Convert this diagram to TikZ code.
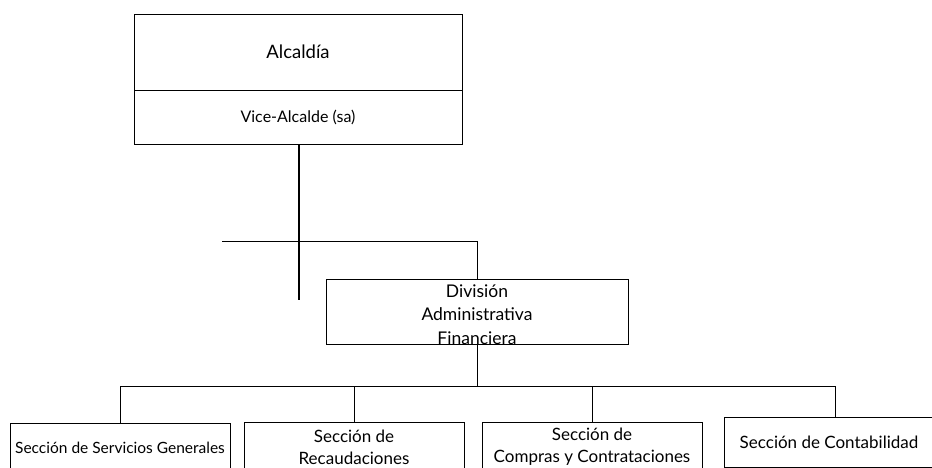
\documentclass[tikz,border=0pt]{standalone}
\usepackage{fontspec}
\setmainfont{Lato}
\begin{document}
\begin{tikzpicture}[x=1pt, y=-1pt]
\tikzstyle{unit}  = [rectangle, draw=black, line width=1pt, inner sep=0pt, align=center, text centered]
\tikzstyle{big}   = [font=\fontsize{17}{22}\selectfont]
\tikzstyle{mid}   = [font=\fontsize{17.5}{23.5}\selectfont]
\tikzstyle{small} = [font=\fontsize{15.5}{18}\selectfont]
\tikzstyle{link}  = [line width=1pt, black]
\useasboundingbox (0,0) rectangle (932,467);
\clip (0,0) rectangle (932,467);
\node[unit, font=\fontsize{18.5}{22}\selectfont, minimum width=328pt, minimum height=76pt] at (298, 52) (alc_0) {Alcaldía};
\node[unit, font=\fontsize{16}{18}\selectfont, minimum width=328pt, minimum height=54pt] at (298, 117) (alc_1) {Vice-Alcalde (sa)};
\node[unit, mid, minimum width=302pt, minimum height=65pt, text height=65pt, text depth=0pt] at (477, 311.5) (div_0) {División\\Administrativa\\Financiera};
\node[unit, small, minimum width=220pt, minimum height=50pt] at (120, 448) (sec_0) {Sección de Servicios Generales};
\node[unit, big, minimum width=220pt, minimum height=50pt] at (354, 447) (sec_1) {Sección de\\Recaudaciones};
\node[unit, big, minimum width=220pt, minimum height=50pt] at (592, 447) (sec_2) {Sección de\\Compras y Contrataciones};
\node[unit, big, minimum width=222pt, minimum height=50pt] at (835, 442) (sec_3) {Sección de Contabilidad\hspace*{12pt}};
\coordinate (alc_end) at (299, 300);
\coordinate (h_0) at (222, 241);
\coordinate (bus) at (477, 386);
\draw[link, line width=2pt] (alc_1.south -| alc_end) -- (alc_end);
\draw[link] (h_0) -| (div_0.north);
\draw[link] (div_0.south) -- (bus);
\foreach \i in {0,...,3}
  \draw[link] (bus) -| (sec_\i.north);
\end{tikzpicture}
\end{document}
